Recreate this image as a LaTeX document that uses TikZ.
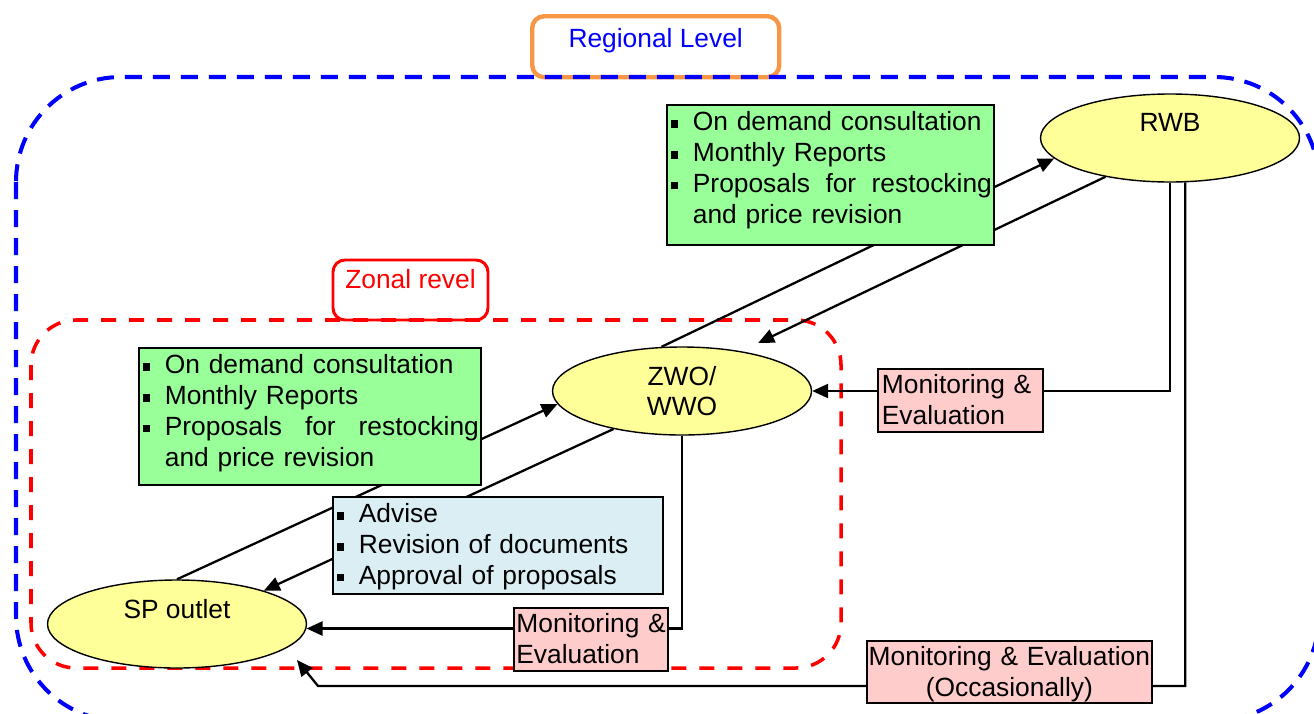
\documentclass[tikz,border=0pt]{standalone}
\usepackage{fontspec}
\setmainfont{Liberation Sans}
\usetikzlibrary{shapes.geometric,arrows.meta}
\pgfdeclarelayer{background}
\pgfsetlayers{background,main}
\definecolor{ellfill}{RGB}{255,255,153}
\definecolor{greenfill}{RGB}{153,255,153}
\definecolor{bluefill}{RGB}{218,238,243}
\definecolor{pinkfill}{RGB}{255,204,204}
\definecolor{regorange}{RGB}{247,150,70}
\newcommand{\sqbul}{\rule[0.06cm]{0.15cm}{0.15cm}}
\newcommand{\bitem}[1]{\hangindent=0.48cm\hangafter=1\noindent\makebox[0.48cm][l]{\hspace{0.04cm}\sqbul}#1\par}

\begin{document}
\begin{tikzpicture}[font=\fontsize{15}{17.5}\selectfont,
	office/.style={ellipse, draw, line width=0.8pt, fill=ellfill, minimum width=5.18cm, minimum height=1.76cm, inner sep=0pt, align=center},
	listbox/.style={draw, line width=1pt, anchor=north west, inner xsep=0.04cm, inner ysep=0.08cm, text height=0.44cm},
	mebox/.style={draw, line width=1pt, fill=pinkfill, anchor=north west, inner xsep=0.08cm, inner ysep=0.06cm, text height=0.44cm, align=left},
	level/.style={rounded corners=0.24cm, fill=white, anchor=north west, inner ysep=0.1cm},
	link/.style={line width=1.3pt, -{Triangle[length=0.32cm,width=0.28cm]}}]
			\useasboundingbox (0,0) rectangle (26.28,-14.26);
			\node[office] (rwb) at (23.40,-2.76) {RWB\\\mbox{}};
			\node[office] (zwo) at (13.64,-7.82) {ZWO/\\WWO};
			\node[office] (sp) at (3.54,-12.48) {SP outlet\\\mbox{}};
			\node[listbox, fill=greenfill, text width=6.46cm, text depth=2.20cm] (upreports) at (13.32,-2.08) {\bitem{On demand consultation}\bitem{Monthly Reports}\bitem{Proposals\hfill for\hfill restocking\newline and price revision}};
			\node[listbox, fill=greenfill, text width=6.76cm, text depth=2.14cm] (lowreports) at (2.76,-6.94) {\bitem{On demand consultation}\bitem{Monthly Reports}\bitem{Proposals\hfill for\hfill restocking\newline and price revision}};
			\node[listbox, fill=bluefill, text width=6.52cm, text depth=1.34cm] (advice) at (6.64,-9.92) {\bitem{Advise}\bitem{Revision of documents}\bitem{Approval of proposals}};
			\node[mebox, text width=3.14cm, text depth=0.70cm] (merwb) at (17.54,-7.36) {\mbox{Monitoring \&}\\Evaluation};
			\node[mebox, inner xsep=0.05cm, text width=2.98cm, text depth=0.70cm] (mezwo) at (10.26,-12.14) {\mbox{Monitoring \&}\\Evaluation};
			\node[mebox, align=center, inner xsep=0.02cm, text width=5.66cm, text depth=0.68cm] (meocc) at (17.32,-12.80) {\mbox{Monitoring \& Evaluation}\\(Occasionally)};
			\coordinate (occbend) at (6.36,-13.72);
			\coordinate (occend) at (5.94,-13.20);
			\begin{pgfonlayer}{background}
				\begin{scope}
					\clip (0,0) rectangle (26.28,-14.26);
					\node[level, draw=regorange, line width=2.5pt, text=blue, minimum width=4.94cm, text height=0.52cm, text depth=0.50cm] (regional) at (10.60,-0.28) {Regional Level};
					\node[level, draw=red, line width=1.7pt, text=red, minimum width=3.10cm, text height=0.47cm, text depth=0.53cm] (zonal) at (6.63,-5.17) {Zonal revel};
					\draw[blue, line width=2.3pt, dash pattern=on 0.34cm off 0.22cm, rounded corners=2.1cm] (0.32,-1.54) rectangle (26.38,-14.42);
					\draw[red, line width=2pt, dash pattern=on 0.30cm off 0.26cm, rounded corners=0.9cm] (0.62,-6.40) rectangle (16.82,-13.36);
				\end{scope}
				\draw[link] (sp.north) -- (zwo.186);
				\draw[link] (zwo.209) -- (sp.21);
				\draw[link] (zwo.115) -- (rwb.190);
				\draw[link, shorten >=0.38cm] (rwb.211) -- (zwo.34);
				\draw[link] (rwb.south) |- (zwo.east);
				\draw[link] (zwo.south) |- (sp.358);
				\draw[link] (rwb.289) |- (occbend) -- (occend);
			\end{pgfonlayer}
		\end{tikzpicture}
\end{document}
